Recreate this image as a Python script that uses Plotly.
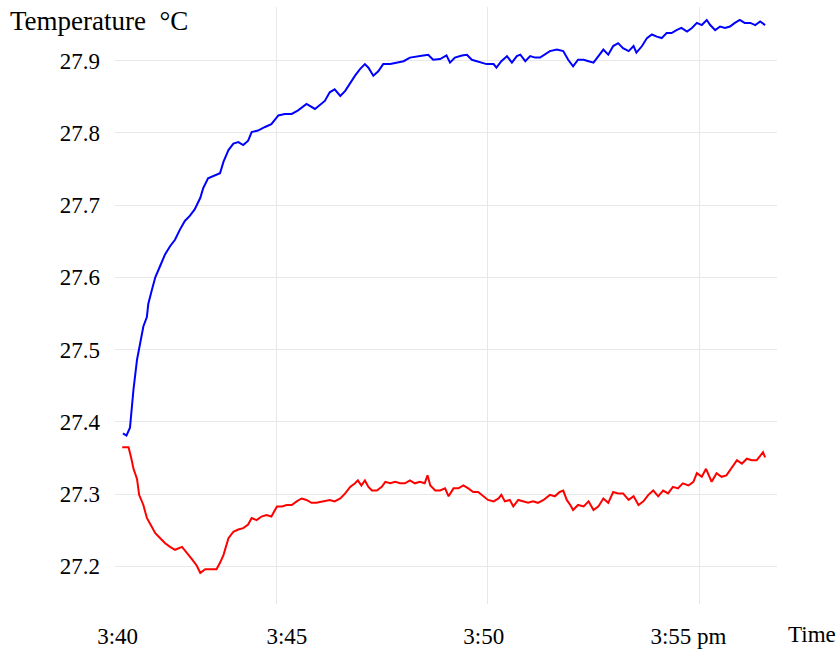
import plotly.graph_objects as go

# Time in seconds after 3:40:00 pm, temperature in °C
blue_t = [81, 86, 91, 93, 96, 101, 105, 110, 115, 117, 122, 127, 134, 141, 148, 155, 162, 169, 176, 183,
          191, 195, 202, 212, 219, 224, 231, 238, 245, 252, 259, 264, 273, 283, 292, 302, 311, 321, 330, 342,
          354, 368, 375, 382, 390, 397, 404, 411, 418, 425, 430, 437, 444, 451, 461, 470, 480, 489, 499, 508,
          515, 522, 532, 541, 546, 553, 563, 570, 577, 584, 591, 598, 608, 612, 619, 627, 634, 641, 646, 653,
          660, 667, 674, 681, 688, 698, 707, 714, 721, 728, 736, 743, 750, 757, 764, 771, 778, 785, 792, 800,
          807, 811, 819, 826, 833, 840, 847, 854, 861, 868, 875, 883, 890, 897, 904, 911, 916, 923, 930, 937,
          944, 951, 958, 965, 973, 980, 987, 994]
blue_v = [27.384, 27.381, 27.392, 27.413, 27.445, 27.486, 27.509, 27.532, 27.545, 27.563, 27.582, 27.600,
          27.616, 27.632, 27.643, 27.652, 27.666, 27.678, 27.685, 27.694, 27.710, 27.723, 27.737, 27.741,
          27.744, 27.760, 27.776, 27.785, 27.787, 27.783, 27.789, 27.801, 27.803, 27.808, 27.812, 27.824,
          27.826, 27.826, 27.831, 27.840, 27.833, 27.844, 27.856, 27.860, 27.851, 27.858, 27.869, 27.879,
          27.888, 27.895, 27.890, 27.879, 27.885, 27.895, 27.895, 27.897, 27.899, 27.904, 27.906, 27.907,
          27.908, 27.901, 27.902, 27.907, 27.897, 27.904, 27.907, 27.908, 27.901, 27.899, 27.897, 27.895,
          27.895, 27.890, 27.899, 27.906, 27.897, 27.906, 27.908, 27.899, 27.906, 27.904, 27.904, 27.908,
          27.913, 27.915, 27.913, 27.901, 27.892, 27.901, 27.901, 27.899, 27.897, 27.906, 27.915, 27.908,
          27.920, 27.924, 27.917, 27.913, 27.920, 27.911, 27.920, 27.931, 27.936, 27.933, 27.931, 27.938,
          27.938, 27.942, 27.945, 27.940, 27.945, 27.952, 27.949, 27.956, 27.949, 27.942, 27.947, 27.945,
          27.947, 27.952, 27.956, 27.952, 27.952, 27.949, 27.954, 27.949]

red_t = [80, 89, 93, 96, 101, 104, 110, 115, 119, 127, 134, 141, 148, 155, 165, 172, 179, 186, 191, 198,
         207, 214, 219, 224, 231, 238, 245, 252, 259, 264, 271, 278, 285, 292, 300, 307, 314, 321, 328, 335,
         342, 349, 356, 364, 375, 382, 390, 397, 404, 411, 415, 420, 425, 430, 435, 442, 449, 454, 461, 468,
         475, 482, 489, 496, 503, 510, 514, 518, 525, 532, 539, 544, 551, 558, 565, 572, 579, 586, 593, 600,
         608, 615, 619, 624, 631, 636, 643, 650, 657, 664, 671, 679, 688, 695, 702, 707, 712, 717, 721, 728,
         736, 743, 750, 757, 764, 771, 778, 785, 792, 800, 807, 814, 821, 828, 835, 842, 849, 856, 863, 870,
         877, 885, 892, 897, 904, 910, 918, 925, 932, 939, 946, 954, 961, 968, 975, 982, 987, 991, 994]
red_v = [27.365, 27.365, 27.349, 27.335, 27.321, 27.299, 27.285, 27.267, 27.260, 27.246, 27.239, 27.232,
         27.227, 27.223, 27.227, 27.219, 27.210, 27.201, 27.191, 27.196, 27.196, 27.196, 27.205, 27.216,
         27.239, 27.248, 27.251, 27.253, 27.258, 27.267, 27.264, 27.269, 27.271, 27.269, 27.283, 27.283,
         27.285, 27.285, 27.290, 27.294, 27.292, 27.288, 27.288, 27.290, 27.292, 27.290, 27.294, 27.301,
         27.310, 27.315, 27.319, 27.312, 27.319, 27.310, 27.305, 27.305, 27.310, 27.317, 27.315, 27.317,
         27.315, 27.315, 27.319, 27.315, 27.317, 27.315, 27.326, 27.312, 27.305, 27.305, 27.308, 27.297,
         27.308, 27.308, 27.312, 27.308, 27.303, 27.303, 27.297, 27.292, 27.290, 27.294, 27.299, 27.290,
         27.292, 27.283, 27.292, 27.290, 27.288, 27.290, 27.288, 27.292, 27.299, 27.297, 27.303, 27.305,
         27.292, 27.285, 27.278, 27.285, 27.283, 27.290, 27.278, 27.283, 27.294, 27.288, 27.303, 27.301,
         27.301, 27.292, 27.297, 27.285, 27.290, 27.299, 27.305, 27.297, 27.305, 27.301, 27.310, 27.308,
         27.315, 27.312, 27.317, 27.329, 27.324, 27.335, 27.317, 27.329, 27.324, 27.326, 27.335, 27.347,
         27.342, 27.349, 27.347, 27.347, 27.353, 27.358, 27.351]

grid_times = [300, 600, 900]               # 3:45, 3:50, 3:55
label_times = [73.5, 314, 594, 885]
label_text = ["3:40", "3:45", "3:50", "3:55 pm"]
y_ticks = [27.2, 27.3, 27.4, 27.5, 27.6, 27.7, 27.8, 27.9]

FONT = "Liberation Serif"
x_range = [69.7, 1010.9]
y_range = [27.148, 27.974]

fig = go.Figure()
fig.add_trace(go.Scatter(x=blue_t, y=blue_v, mode="lines",
                         line=dict(color="#0000ff", width=2), xaxis="x", yaxis="y",
                         showlegend=False, hoverinfo="skip"))
fig.add_trace(go.Scatter(x=red_t, y=red_v, mode="lines",
                         line=dict(color="#ff0000", width=2), xaxis="x2", yaxis="y",
                         showlegend=False, hoverinfo="skip"))

fig.update_layout(
    width=840, height=656,
    margin=dict(l=115, r=63, t=7, b=46),
    paper_bgcolor="white", plot_bgcolor="white",
    font=dict(family=FONT, size=23, color="black"),
    title=dict(text="Temperature\u00a0\u00a0°C", font=dict(family=FONT, size=27, color="black"),
               x=10 / 840, xanchor="left", xref="container",
               y=1 - 21 / 656, yanchor="middle", yref="container"),
    xaxis=dict(range=x_range, tickvals=grid_times, showticklabels=False, ticks="",
               showgrid=True, gridcolor="#e8e8e8", gridwidth=1.3, zeroline=False, showline=False),
    xaxis2=dict(range=x_range, overlaying="x", anchor="y", side="bottom",
                tickvals=label_times, ticktext=label_text, showgrid=False, zeroline=False,
                showline=False, ticks="", ticklabelstandoff=16,
                tickfont=dict(family=FONT, size=23, color="black")),
    yaxis=dict(range=y_range, tickvals=y_ticks, tickformat=".1f", ticks="",
               showgrid=True, gridcolor="#e8e8e8", gridwidth=1.3, zeroline=False, showline=False,
               ticklabelstandoff=14, tickfont=dict(family=FONT, size=23, color="black")),
    annotations=[dict(text="Time", xref="paper", yref="paper", x=(786 - 115) / 662, y=-0.0514,
                      xanchor="left", yanchor="middle", showarrow=False,
                      font=dict(family=FONT, size=23, color="black"))],
)

fig.write_html("out.html")
